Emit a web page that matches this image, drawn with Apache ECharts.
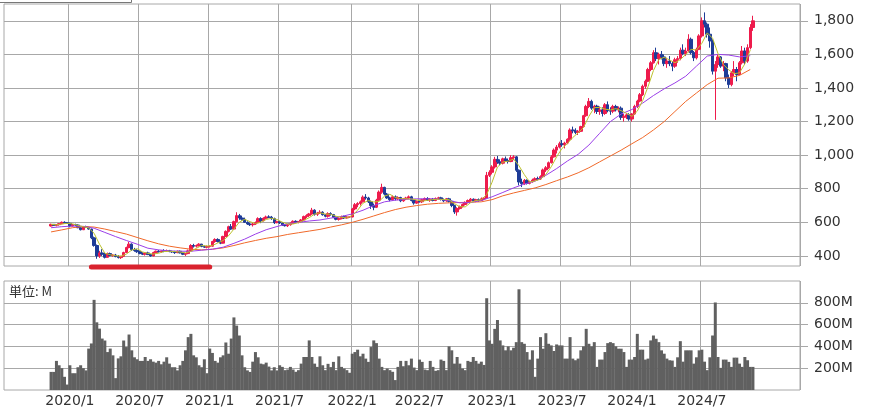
<!DOCTYPE html>
<html>
<head>
<meta charset="utf-8">
<script src="https://cdn.jsdelivr.net/npm/echarts@6.0.0/dist/echarts.min.js"></script>
<style>
  html, body { margin: 0; padding: 0; background: #fff; }
  #chart { width: 876px; height: 408px; }
</style>
</head>
<body>
<div id="chart"></div>
<script>
// 週足 2019/11/15 〜 2024/11/15 (262本)
var axisStart = Date.UTC(2019, 6, 19);   // 横軸の最初の週 2019-07-19
var axisWeeks = 296;
var dataOffset = 17;                      // 最初の足 = 2019-11-15
var lastLabelYear = 2024;

var openP = [
  578,588,582,586,592,600,598,594,578,586, 584,568,556,574,570,560,508,462,400,418,
  410,392,414,402,405,396,390,398,420,450, 470,438,432,425,414,410,418,408,400,420,
  428,425,430,428,432,426,424,420,428,418, 410,414,430,462,458,462,470,456,452,456,
  458,486,498,486,476,516,546,574,560,604, 640,626,618,600,590,586,590,598,622,610,
  624,632,630,622,598,604,596,584,580,586, 594,606,600,604,614,634,640,650,672,648,
  656,660,645,636,652,646,630,618,622,634, 626,632,632,680,705,712,722,750,745,722,
  700,690,732,780,808,768,745,735,752,740, 748,728,740,745,752,730,715,726,722,735,
  742,732,738,730,742,746,736,728,740,725, 700,662,682,694,706,718,730,738,728,735,
  730,740,745,880,898,930,975,960,952,978, 968,962,985,990,910,840,830,850,832,842,
  852,860,858,872,912,925,955,990,1030,1048, 1068,1062,1072,1095,1150,1145,1135,1142,1170,1235,
  1290,1320,1280,1292,1260,1270,1248,1300,1265,1262, 1290,1270,1280,1225,1232,1240,1215,1245,1290,1322,
  1360,1410,1440,1510,1550,1610,1575,1600,1585,1545, 1560,1545,1530,1568,1575,1625,1605,1620,1690,1610,
  1580,1630,1710,1800,1780,1720,1680,1500,1540,1585, 1530,1545,1460,1420,1490,1510,1480,1550,1620,1560,
  1640,1760
];
var highP = [
  592,590,590,596,605,606,602,598,590,592, 588,572,578,580,574,562,515,468,430,440,
  418,420,420,410,412,405,400,425,455,484, 475,448,440,432,422,420,425,412,425,432,
  436,432,440,438,436,432,430,432,432,422, 418,438,470,472,468,476,472,462,462,462,
  490,505,505,492,520,552,580,590,610,660, 650,640,628,606,598,596,605,630,630,630,
  640,642,638,628,610,608,600,590,590,600, 612,612,608,620,640,648,656,686,678,662,
  672,666,650,660,660,650,636,630,640,640, 636,636,686,715,720,730,760,768,752,730,
  712,740,790,830,812,775,752,760,760,755, 752,745,752,760,758,736,730,735,740,748,
  750,745,745,748,752,752,742,745,746,730, 705,690,700,712,725,736,745,742,740,742,
  748,750,900,910,940,990,995,975,985,992, 980,1000,1000,995,915,860,858,856,848,860,
  868,872,880,920,935,962,1000,1040,1060,1080, 1090,1080,1100,1160,1170,1160,1150,1175,1240,1300,
  1340,1330,1300,1300,1290,1285,1310,1320,1285,1300, 1300,1290,1290,1245,1250,1250,1250,1300,1330,1370,
  1420,1450,1520,1560,1625,1640,1610,1620,1600,1580, 1590,1560,1580,1590,1640,1660,1640,1720,1700,1620,
  1640,1720,1820,1850,1790,1760,1690,1560,1600,1590, 1560,1550,1480,1500,1560,1525,1560,1650,1640,1660,
  1780,1830
];
var lowP = [
  575,578,576,580,588,594,590,570,575,578, 565,552,554,566,556,500,455,383,388,400,
  385,390,398,395,392,385,382,395,418,445, 430,425,418,410,405,402,405,395,398,415,
  420,418,422,424,422,418,412,416,415,405, 400,410,428,450,450,455,452,448,445,450,
  455,478,480,470,474,512,540,555,556,600, 615,610,596,585,578,575,585,595,595,605,
  618,625,615,590,594,590,578,575,572,580, 590,596,594,600,610,626,632,645,640,638,
  650,640,630,628,640,625,612,610,618,620, 622,628,630,672,690,700,718,735,715,680,
  672,685,728,770,760,740,725,728,730,732, 720,722,732,738,725,705,710,718,715,728,
  728,722,725,726,735,730,720,722,718,690, 650,640,676,688,700,712,722,722,720,722,
  726,732,742,870,885,920,948,940,945,960, 950,958,970,900,820,810,822,825,826,836,
  845,850,852,868,900,918,950,985,1010,1040, 1050,1040,1065,1085,1130,1125,1120,1138,1165,1228,
  1280,1270,1250,1245,1240,1230,1240,1255,1240,1250, 1260,1255,1210,1200,1215,1205,1200,1240,1280,1315,
  1352,1395,1435,1500,1545,1560,1540,1570,1530,1520, 1530,1500,1520,1550,1565,1595,1590,1612,1600,1560,
  1570,1625,1700,1760,1700,1640,1480,1210,1520,1520, 1500,1440,1400,1410,1470,1440,1475,1540,1540,1550,
  1630,1740
];
var closeP = [
  588,582,586,592,600,598,594,578,586,584, 568,556,574,570,560,508,462,400,418,410,
  392,414,402,405,396,390,398,420,450,470, 438,432,425,414,410,418,408,400,420,428,
  425,430,428,432,426,424,420,428,418,410, 414,430,462,458,462,470,456,452,456,458,
  486,498,486,476,516,546,574,560,604,640, 626,618,600,590,586,590,598,622,610,624,
  632,630,622,598,604,596,584,580,586,594, 606,600,604,614,634,640,650,672,648,656,
  660,645,636,652,646,630,618,622,634,626, 632,632,680,705,712,722,750,745,722,700,
  690,732,780,808,768,745,735,752,740,748, 728,740,745,752,730,715,726,722,735,742,
  732,738,730,742,746,736,728,740,725,700, 662,682,694,706,718,730,738,728,735,730,
  740,745,880,898,930,975,960,952,978,968, 962,985,990,910,840,830,850,832,842,852,
  860,858,872,912,925,955,990,1030,1048,1068, 1062,1072,1095,1150,1145,1135,1142,1170,1235,1290,
  1320,1280,1292,1260,1270,1248,1300,1265,1262,1290, 1270,1280,1225,1232,1240,1215,1245,1290,1322,1360,
  1410,1440,1510,1550,1610,1575,1600,1585,1545,1560, 1545,1530,1568,1575,1625,1605,1620,1690,1610,1580,
  1630,1710,1800,1780,1720,1680,1500,1540,1585,1530, 1545,1460,1420,1490,1510,1480,1550,1620,1560,1640,
  1760,1800
];
// 出来高 (M)
var volume = [
  166,166,267,227,200,121,50,227,154,154, 209,227,200,180,380,427,827,621,563,472,
  454,348,380,318,109,290,309,454,394,509, 364,300,282,267,267,303,267,282,260,251,
  267,236,260,300,242,209,209,180,227,267, 364,485,515,318,300,227,209,282,154,380,
  340,267,251,300,318,436,333,472,666,591, 500,318,209,180,166,260,348,300,242,236,
  251,215,180,209,180,227,212,182,188,212, 188,167,182,242,303,303,455,303,242,212,
  309,227,182,240,210,258,182,309,212,197, 182,158,333,348,370,309,333,288,258,394,
  455,430,288,212,182,197,182,167,91,212, 267,218,267,227,288,206,182,279,258,188,
  182,267,212,176,182,279,267,182,400,364, 242,303,242,197,182,267,258,303,267,242,
  260,230,842,455,424,561,642,455,409,364, 400,364,388,439,924,439,424,348,279,364,
  121,288,485,379,521,424,409,358,418,409, 409,288,288,485,288,273,288,364,400,561,
  424,400,439,212,279,279,348,430,439,430, 400,379,379,348,212,279,279,303,515,370,
  370,279,288,455,500,470,439,364,333,288, 273,270,212,300,448,260,364,364,364,242,
  300,364,370,260,182,300,500,803,303,203, 279,279,258,212,297,297,242,212,303,273,
  212,212
];
// 移動平均（短期は2週ごと、中期・長期は4週ごとに読み取り）
var maShort = [
  588,585,590,594,591,582,574,566,535,470, 416,407,402,398,411,435,443,424,415,411,
  416,426,428,426,423,418,427,445,462,459, 462,477,492,520,560,601,618,604,593,601,
  617,624,617,601,590,590,598,612,628,649, 657,649,648,636,630,626,641,672,714,730,
  721,725,756,767,748,741,740,739,734,726, 731,735,738,736,735,711,693,692,717,730,
  734,766,839,929,959,964,977,937,884,839, 847,857,885,931,990,1040,1069,1105,1133,1165,
  1231,1283,1284,1274,1269,1277,1265,1249,1231,1262, 1325,1408,1504,1569,1583,1567,1550,1569,1599,1630,
  1626,1666,1728,1696,1605,1540,1508,1485,1490,1544, 1626
];
var maMid = [
  568,574,578,576,565,540,515,492,470,446, 436,430,428,428,434,440,452,475,500,530,
  556,575,592,600,608,614,625,635,650,672, 700,722,732,737,740,740,738,730,716,718,
  730,752,778,805,828,845,880,920,965,1005, 1060,1130,1200,1245,1272,1310,1355,1395,1430,1470,
  1530,1590,1600,1596,1585,1592
];
var maLong = [
  543,555,568,575,572,560,545,530,510,490, 472,458,448,440,436,440,448,462,478,492,
  505,515,528,538,548,558,572,585,600,618, 638,658,676,690,700,708,713,716,718,720,
  722,735,758,775,790,805,825,848,870,895, 925,960,995,1030,1068,1105,1150,1200,1260,1320,
  1370,1420,1458,1460,1475,1510
];
var priceTicks = [400, 600, 800, 1000, 1200, 1400, 1600, 1800];
var volumeTicks = [200, 400, 600, 800];
// 安値圏の帯
var bandFrom = '2020-02-28', bandTo = '2021-01-01', bandLevel = 334;

function ymd(i) {
  var d = new Date(axisStart + i * 7 * 86400000);
  var m = d.getUTCMonth() + 1, day = d.getUTCDate();
  return d.getUTCFullYear() + '-' + (m < 10 ? '0' : '') + m + '-' + (day < 10 ? '0' : '') + day;
}
var weeks = [];
for (var i = 0; i < axisWeeks; i++) weeks.push(ymd(i));

// 1月・7月の最初の週に目盛
function isHalfYear(idx, val) {
  var p = String(val).split('-');
  return +p[0] <= lastLabelYear && (p[1] === '01' || p[1] === '07') && +p[2] <= 7;
}
function wk(k) { return weeks[k + dataOffset]; }

var candles = closeP.map(function (c, k) { return [wk(k), openP[k], c, lowP[k], highP[k]]; });
var volData = volume.map(function (v, k) { return [wk(k), v]; });
function maData(vals, step) {
  return vals.map(function (v, j) { return [wk(j * step), v]; });
}

var gridColor = '#a8a8a8';
var textStyle = { color: '#333', fontSize: 14, fontFamily: 'DejaVu Sans' };

var chart = echarts.init(document.getElementById('chart'));
chart.setOption({
  animation: false,
  grid: [
    { left: 4, right: 76, top: 4, height: 262, show: true, borderColor: gridColor, borderWidth: 1 },
    { left: 4, right: 76, top: 281, height: 109, show: true, borderColor: gridColor, borderWidth: 1 }
  ],
  xAxis: [
    {
      type: 'category', gridIndex: 0, data: weeks,
      axisLine: { show: false }, axisTick: { show: false }, axisLabel: { show: false },
      splitLine: { show: true, interval: isHalfYear, lineStyle: { color: gridColor } }
    },
    {
      type: 'category', gridIndex: 1, data: weeks,
      axisLine: { show: false }, axisTick: { show: false },
      axisLabel: Object.assign({
        interval: isHalfYear, margin: 4,
        formatter: function (v) { var p = v.split('-'); return p[0] + '/' + (+p[1]); }
      }, textStyle),
      splitLine: { show: true, interval: isHalfYear, lineStyle: { color: gridColor } }
    }
  ],
  yAxis: [
    {
      type: 'value', gridIndex: 0, position: 'right', min: 340, max: 1900,
      axisLine: { show: false },
      axisTick: { show: true, length: 8, customValues: priceTicks, lineStyle: { color: gridColor } },
      axisLabel: Object.assign({
        customValues: priceTicks, margin: 14,
        formatter: function (v) { return v.toLocaleString('en-US'); }
      }, textStyle),
      splitLine: { show: true, lineStyle: { color: gridColor } }
    },
    {
      type: 'value', gridIndex: 1, position: 'right', min: 0, max: 1000,
      axisLine: { show: false },
      axisTick: { show: true, length: 8, customValues: volumeTicks, lineStyle: { color: gridColor } },
      axisLabel: Object.assign({
        customValues: volumeTicks, margin: 14,
        formatter: function (v) { return v + 'M'; }
      }, textStyle),
      splitLine: { show: true, lineStyle: { color: gridColor } }
    }
  ],
  series: [
    {
      type: 'candlestick', xAxisIndex: 0, yAxisIndex: 0,
      data: candles, encode: { x: 0, y: [1, 2, 3, 4] }, barWidth: 3,
      itemStyle: { color: '#ee1b4c', color0: '#1e3c97', borderColor: '#ee1b4c', borderColor0: '#1e3c97', borderWidth: 1 }
    },
    {
      type: 'line', xAxisIndex: 0, yAxisIndex: 0, data: maData(maLong, 4),
      showSymbol: false, lineStyle: { color: '#f0692a', width: 1 }
    },
    {
      type: 'line', xAxisIndex: 0, yAxisIndex: 0, data: maData(maMid, 4),
      showSymbol: false, lineStyle: { color: '#9a3ee8', width: 1 }
    },
    {
      type: 'line', xAxisIndex: 0, yAxisIndex: 0, data: maData(maShort, 2),
      showSymbol: false, lineStyle: { color: '#bcc22e', width: 1 }
    },
    {
      type: 'line', xAxisIndex: 0, yAxisIndex: 0, clip: false, showSymbol: false,
      data: [[bandFrom, bandLevel], [bandTo, bandLevel]],
      lineStyle: { color: '#d9232e', width: 5, cap: 'round' }, z: 5
    },
    {
      type: 'bar', xAxisIndex: 1, yAxisIndex: 1, data: volData,
      barWidth: 3, itemStyle: { color: '#606060' }
    }
  ],
  graphic: [
    { type: 'text', left: 9, top: 285, style: { text: '単位: M', fill: '#333', font: '13px "Noto Sans CJK JP"' } },
    { type: 'polyline', shape: { points: [[0, 2.5], [131.5, 2.5], [131.5, 0]] }, style: { stroke: '#777', lineWidth: 1, fill: 'none' } }
  ]
});
</script>
</body>
</html>
